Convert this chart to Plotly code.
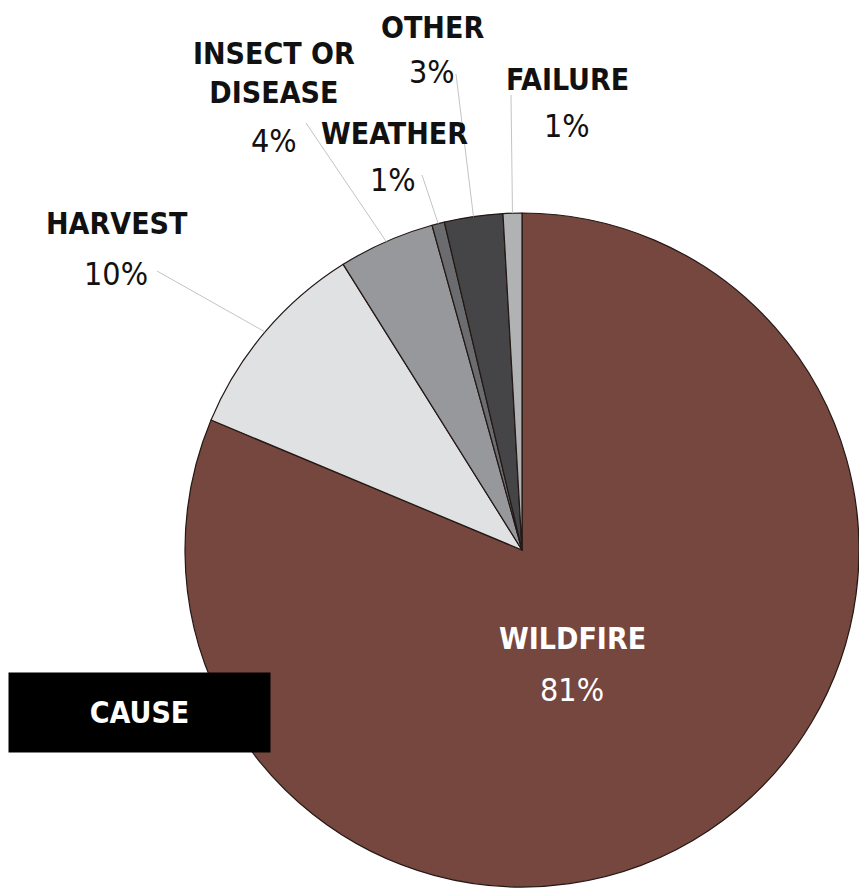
import math
import plotly.graph_objects as go

# ---- data ----
causes = ["WILDFIRE", "HARVEST", "INSECT OR<br>DISEASE", "WEATHER", "OTHER", "FAILURE"]
shares = [81.3, 9.8, 4.6, 0.6, 2.8, 0.9]
pct_labels = ["81%", "10%", "4%", "1%", "3%", "1%"]
colors = ["#76473F", "#E0E1E3", "#97989B", "#6B6C6F", "#454547", "#B1B2B4"]

# ---- layout constants (pixels, page coords) ----
W, H = 867, 890
PAGE_OFF = 8  # default body margin of the html page
CX, CY, R = 522, 550, 337
FONT = "DejaVu Sans Condensed, Liberation Sans Narrow, Arial Narrow, sans-serif"
NAME_SIZE = 30
PCT_SIZE = 32

# label name centre, pct centre, leader start (None = no leader)
label_pos = [
    ((572, 638), (572, 690), None),
    ((117, 223), (116, 274), (157, 271)),
    ((274, 73), (274, 141), (306, 123)),
    ((394, 134), (393, 180), (422, 175)),
    ((432, 27), (432, 72), (456, 74)),
    ((567, 79), (567, 126), (511, 95)),
]


def px(x):
    return (x - PAGE_OFF) / W


def py(y):
    return 1 - (y - PAGE_OFF) / H


fig = go.Figure(go.Pie(
    labels=[c.replace("<br>", " ") for c in causes],
    values=shares,
    sort=False,
    direction="clockwise",
    rotation=0,
    textinfo="none",
    hoverinfo="label+percent",
    marker=dict(colors=colors, line=dict(color="#231815", width=1.2)),
    domain=dict(x=[px(CX - R), px(CX + R)], y=[py(CY + R), py(CY - R)]),
    showlegend=False,
))

annotations = []
shapes = []
total = sum(shares)
cum = 0.0
for i, (name, v, pct) in enumerate(zip(causes, shares, pct_labels)):
    mid = (cum + v / 2) / total * 2 * math.pi  # clockwise from 12 o'clock
    cum += v
    (nx, ny), (tx, ty), lead = label_pos[i]
    col = "white" if i == 0 else "#111111"
    annotations.append(dict(
        x=px(nx), y=py(ny), xref="paper", yref="paper", text="<b>%s</b>" % name,
        showarrow=False, xanchor="center", yanchor="middle",
        font=dict(family=FONT, size=NAME_SIZE, color=col)))
    annotations.append(dict(
        x=px(tx), y=py(ty), xref="paper", yref="paper", text=pct,
        showarrow=False, xanchor="center", yanchor="middle",
        font=dict(family=FONT, size=PCT_SIZE, color=col)))
    if lead is not None:
        ex = CX + R * math.sin(mid)
        ey = CY - R * math.cos(mid)
        shapes.append(dict(type="line", xref="paper", yref="paper",
                           x0=px(lead[0]), y0=py(lead[1]), x1=px(ex), y1=py(ey),
                           line=dict(color="#C4C4C4", width=1)))

annotations.append(dict(
    x=px(139.5), y=py(712.5), xref="paper", yref="paper", text="<b>CAUSE</b>",
    showarrow=False, xanchor="center", yanchor="middle", width=261, height=79,
    bgcolor="black", borderpad=0, valign="middle",
    font=dict(family=FONT, size=NAME_SIZE, color="white")))

fig.update_layout(
    width=W, height=H,
    margin=dict(l=0, r=0, t=0, b=0),
    paper_bgcolor="white", plot_bgcolor="white",
    annotations=annotations, shapes=shapes,
)
fig.write_html("out.html")
